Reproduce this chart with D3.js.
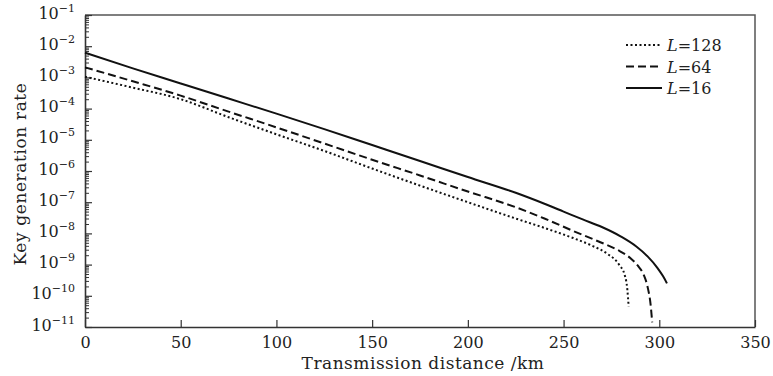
<!DOCTYPE html>
<html>
<head>
<meta charset="utf-8">
<script src="https://cdn.jsdelivr.net/npm/d3@7"></script>
<style>
  body { margin: 0; background: #fff; }
  svg { display: block; }
  text { font-family: "DejaVu Serif", "Liberation Serif", serif; fill: #222; }
</style>
</head>
<body>
<div id="chart"></div>
<script>
// key generation rate vs distance, three L values, log y scale

const distL16  = [0, 25, 50, 75, 100, 125, 150, 175, 200, 225, 240, 250, 260, 270, 280, 288, 294, 299, 302, 304];
const rateL16  = [6.2e-3, 1.95e-3, 6.4e-4, 2.1e-4, 6.9e-5, 2.2e-5, 6.8e-6, 2.1e-6, 6.4e-7, 2.0e-7, 8.9e-8, 5.0e-8, 2.8e-8, 1.6e-8, 7.9e-9, 3.8e-9, 1.8e-9, 7.9e-10, 4.2e-10, 2.5e-10];

const distL64  = [0, 25, 50, 75, 100, 125, 150, 175, 200, 225, 240, 255, 268, 278, 285, 289, 292, 294, 295.5, 296.3];
const rateL64  = [2.1e-3, 7.5e-4, 2.6e-4, 8.0e-5, 2.5e-5, 7.6e-6, 2.3e-6, 7.2e-7, 2.2e-7, 6.9e-8, 3.0e-8, 1.2e-8, 5.6e-9, 3.0e-9, 1.6e-9, 8.9e-10, 4.5e-10, 1.8e-10, 5.0e-11, 1.4e-11];

const distL128 = [0, 25, 50, 75, 100, 125, 150, 175, 200, 225, 240, 255, 265, 273, 279, 282, 283.3, 284];
const rateL128 = [1.05e-3, 4.7e-4, 2.0e-4, 5.3e-5, 1.5e-5, 4.4e-6, 1.2e-6, 3.4e-7, 1.0e-7, 3.0e-8, 1.5e-8, 7.1e-9, 4.0e-9, 2.2e-9, 1.0e-9, 4.5e-10, 1.6e-10, 4.5e-11];

const seriesNames = ['128', '64', '16'];
const xTicks = [0, 50, 100, 150, 200, 250, 300, 350];
const yExponents = [-1, -2, -3, -4, -5, -6, -7, -8, -9, -10, -11];

const W = 773, H = 376;
const margin = {left: 85, right: 18, top: 15, bottom: 49};

const svg = d3.select('#chart').append('svg')
  .attr('width', W)
  .attr('height', H);

const x = d3.scaleLinear().domain([0, 350]).range([margin.left, W - margin.right]);
const y = d3.scaleLog().domain([1e-11, 1e-1]).range([H - margin.bottom, margin.top]);

const x0 = x.range()[0], x1 = x.range()[1];
const y0 = y.range()[0], y1 = y.range()[1];

// frame: top and right lines
svg.append('path')
  .attr('d', `M${x0},${y1}H${x1}V${y0}`)
  .attr('fill', 'none')
  .attr('stroke', '#555')
  .attr('stroke-width', 1.5);

// x axis, ticks pointing up into the plot
const xAxis = svg.append('g')
  .attr('transform', `translate(0,${y0})`)
  .call(d3.axisBottom(x).tickValues(xTicks).tickSizeInner(-7).tickSizeOuter(0).tickPadding(10));
xAxis.select('.domain').attr('stroke', '#333').attr('stroke-width', 1.6);
xAxis.selectAll('.tick line').attr('stroke', '#333').attr('stroke-width', 1.2);
xAxis.selectAll('.tick text').attr('font-size', 16).attr('font-family', '"DejaVu Serif", serif').attr('fill', '#222');

// y axis: major ticks plus minor ticks at 2..9 x 10^n
const minorVals = [];
for (let e = -11; e < -1; e++) {
  for (let m = 2; m <= 9; m++) minorVals.push(m * Math.pow(10, e));
}
const yMinor = svg.append('g')
  .attr('transform', `translate(${x0},0)`)
  .call(d3.axisLeft(y).tickValues(minorVals).tickSizeInner(-4).tickSizeOuter(0).tickFormat(''));
yMinor.select('.domain').remove();
yMinor.selectAll('.tick line').attr('stroke', '#333').attr('stroke-width', 1);

const yAxis = svg.append('g')
  .attr('transform', `translate(${x0},0)`)
  .call(d3.axisLeft(y).tickValues(yExponents.map(e => Math.pow(10, e))).tickSizeInner(-7).tickSizeOuter(0).tickFormat(''));
yAxis.select('.domain').attr('stroke', '#333').attr('stroke-width', 1.6);
yAxis.selectAll('.tick line').attr('stroke', '#333').attr('stroke-width', 1.2);

// tick labels as 10 with superscript exponent
yAxis.selectAll('.tick').each(function(d) {
  const e = Math.round(Math.log10(d));
  const t = d3.select(this).append('text')
    .attr('x', -10)
    .attr('y', 3)
    .attr('text-anchor', 'end')
    .attr('fill', '#222');
  t.append('tspan').attr('font-size', 16).text('10');
  t.append('tspan').attr('font-size', 11).attr('dy', -7).text('\u2212' + Math.abs(e));
});

// axis titles
svg.append('text')
  .attr('x', (x0 + x1) / 2 + 3)
  .attr('y', 369)
  .attr('text-anchor', 'middle')
  .attr('font-size', 17)
  .attr('letter-spacing', 0.5)
  .text('Transmission distance /km');

svg.append('text')
  .attr('transform', `translate(26,${(y0 + y1) / 2 + 3}) rotate(-90)`)
  .attr('text-anchor', 'middle')
  .attr('font-size', 17)
  .attr('letter-spacing', 0.6)
  .text('Key generation rate');

// curves
const line = d3.line()
  .x(d => x(d[0]))
  .y(d => y(d[1]))
  .curve(d3.curveMonotoneX);

const series = [
  {name: seriesNames[0], dist: distL128, rate: rateL128, dash: '2,2.5'},
  {name: seriesNames[1], dist: distL64,  rate: rateL64,  dash: '8,4'},
  {name: seriesNames[2], dist: distL16,  rate: rateL16,  dash: null}
];

svg.append('g')
  .selectAll('path')
  .data(series)
  .join('path')
  .attr('d', s => line(s.dist.map((v, i) => [v, s.rate[i]])))
  .attr('fill', 'none')
  .attr('stroke', '#111')
  .attr('stroke-width', 2)
  .attr('stroke-dasharray', s => s.dash);

// legend
const legend = svg.append('g').attr('transform', 'translate(626,45)');
const row = legend.selectAll('g')
  .data(series)
  .join('g')
  .attr('transform', (s, i) => `translate(0,${i * 21.5})`);
row.append('line')
  .attr('x1', 0).attr('x2', 36)
  .attr('y1', 0).attr('y2', 0)
  .attr('stroke', '#111')
  .attr('stroke-width', 2)
  .attr('stroke-dasharray', s => s.dash);
const lt = row.append('text')
  .attr('x', 41)
  .attr('y', 6)
  .attr('font-size', 16);
lt.append('tspan').attr('font-style', 'italic').text('L');
lt.append('tspan').text(s => '=' + s.name);
</script>
</body>
</html>
